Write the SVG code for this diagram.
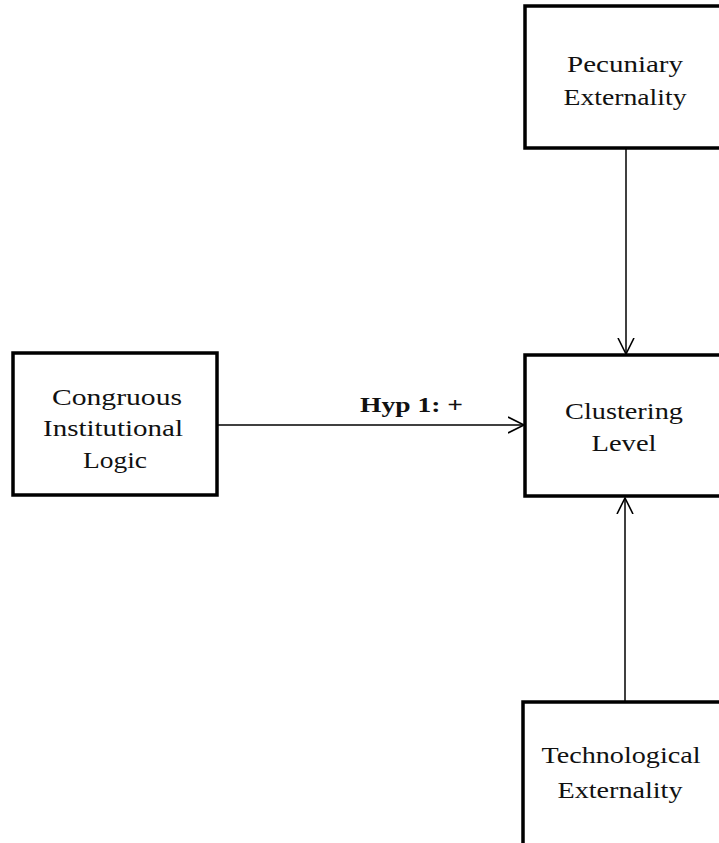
<svg xmlns="http://www.w3.org/2000/svg" width="719" height="843" viewBox="0 0 719 843">
<defs>
<style>
.box{fill:#fff;stroke:#000;stroke-width:3.5}
.lbl{font-family:"Liberation Serif","Times New Roman",serif;font-size:23px;fill:#111;text-anchor:middle}
.hyp{font-family:"Liberation Serif","Times New Roman",serif;font-size:22px;font-weight:bold;fill:#111}
.conn{stroke:#000;stroke-width:1.5;fill:none}
</style>
<marker id="arr" markerUnits="userSpaceOnUse" markerWidth="20" markerHeight="20" refX="16" refY="9" orient="auto">
<path d="M0,1 L16,9 L0,17" fill="none" stroke="#000" stroke-width="1.6"/>
</marker>
</defs>
<rect width="719" height="843" fill="#fff"/>
<g id="connectors">
<line class="conn" x1="626" y1="148" x2="626" y2="354" marker-end="url(#arr)"/>
<line class="conn" x1="217" y1="425" x2="524" y2="425" marker-end="url(#arr)"/>
<line class="conn" x1="625" y1="702" x2="625" y2="498" marker-end="url(#arr)"/>
<text class="hyp" x="360" y="412" textLength="103" lengthAdjust="spacingAndGlyphs">Hyp 1: +</text>
</g>
<g id="pecuniary">
<rect class="box" x="525" y="6" width="200" height="142"/>
<text class="lbl" x="625" y="72" textLength="116" lengthAdjust="spacingAndGlyphs">Pecuniary</text>
<text class="lbl" x="625" y="105" textLength="123" lengthAdjust="spacingAndGlyphs">Externality</text>
</g>
<g id="congruous">
<rect class="box" x="13" y="353" width="204" height="142"/>
<text class="lbl" x="117" y="405" textLength="130" lengthAdjust="spacingAndGlyphs">Congruous</text>
<text class="lbl" x="113" y="436" textLength="140" lengthAdjust="spacingAndGlyphs">Institutional</text>
<text class="lbl" x="115" y="468" textLength="64" lengthAdjust="spacingAndGlyphs">Logic</text>
</g>
<g id="clustering">
<rect class="box" x="525" y="355" width="200" height="141"/>
<text class="lbl" x="624" y="419" textLength="118" lengthAdjust="spacingAndGlyphs">Clustering</text>
<text class="lbl" x="624" y="451" textLength="65" lengthAdjust="spacingAndGlyphs">Level</text>
</g>
<g id="technological">
<rect class="box" x="523" y="702" width="202" height="150"/>
<text class="lbl" x="621" y="763" textLength="159" lengthAdjust="spacingAndGlyphs">Technological</text>
<text class="lbl" x="620" y="798" textLength="125" lengthAdjust="spacingAndGlyphs">Externality</text>
</g>
</svg>
